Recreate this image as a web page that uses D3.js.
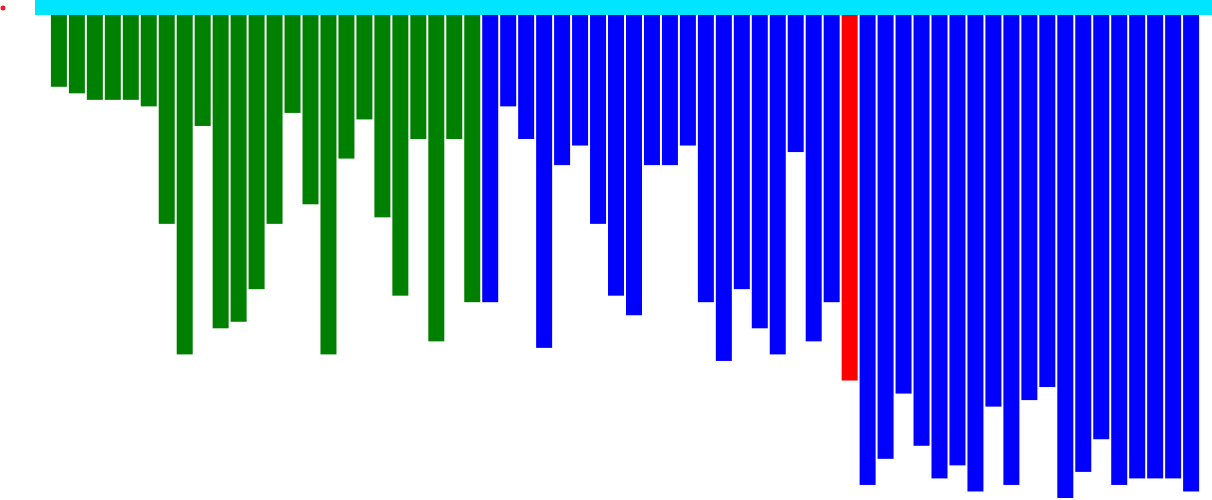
<!DOCTYPE html>
<html>
<head>
<meta charset="utf-8">
<script src="https://cdn.jsdelivr.net/npm/d3@7"></script>
<style>
  html, body { margin: 0; padding: 0; background: #fff; }
  svg { display: block; }
</style>
</head>
<body>
<svg id="chart" width="1212" height="500"></svg>
<script>
// Data values (bar lengths, hanging down from the top band)
const greenValues = [11, 12, 13, 13, 13, 14, 32, 52, 17, 48, 47, 42, 32, 15, 29, 52, 22, 16, 31, 43, 19, 50, 19, 44];
const blueValuesA = [44, 14, 19, 51, 23, 20, 32, 43, 46, 23, 23, 20, 44, 53, 42, 48, 52, 21, 50, 44];
const redValues = [56];
const blueValuesB = [72, 68, 58, 66, 71, 69, 73, 60, 72, 59, 57, 74, 70, 65, 72, 71, 71, 71, 73];
const groupNames = ["green", "blueA", "red", "blueB"];

const data = [];
greenValues.forEach(v => data.push({ g: "green", v }));
blueValuesA.forEach(v => data.push({ g: "blueA", v }));
redValues.forEach(v => data.push({ g: "red", v }));
blueValuesB.forEach(v => data.push({ g: "blueB", v }));
data.forEach((d, i) => d.i = i);

const colorScale = d3.scaleOrdinal()
  .domain(groupNames)
  .range(["#008000", "#0000ff", "#ff0000", "#0000ff"]);

const svg = d3.select("#chart");

const x = d3.scaleBand()
  .domain(data.map(d => d.i))
  .range([50, 1200])
  .paddingInner(0.11)
  .paddingOuter(0.05);

const y = d3.scaleLinear()
  .domain([0, 74])
  .range([15, 498]);

// top band
svg.append("rect")
  .attr("x", 35).attr("y", 0)
  .attr("width", 1212 - 35).attr("height", 15)
  .attr("fill", "#00e5ff");

svg.append("g").selectAll("rect")
  .data(data)
  .join("rect")
  .attr("x", d => x(d.i))
  .attr("y", y(0))
  .attr("width", x.bandwidth())
  .attr("height", d => y(d.v) - y(0))
  .attr("fill", d => colorScale(d.g));

// small red dot
svg.append("circle")
  .attr("cx", 3).attr("cy", 8).attr("r", 2.5)
  .attr("fill", "#e8202a");
</script>
</body>
</html>
